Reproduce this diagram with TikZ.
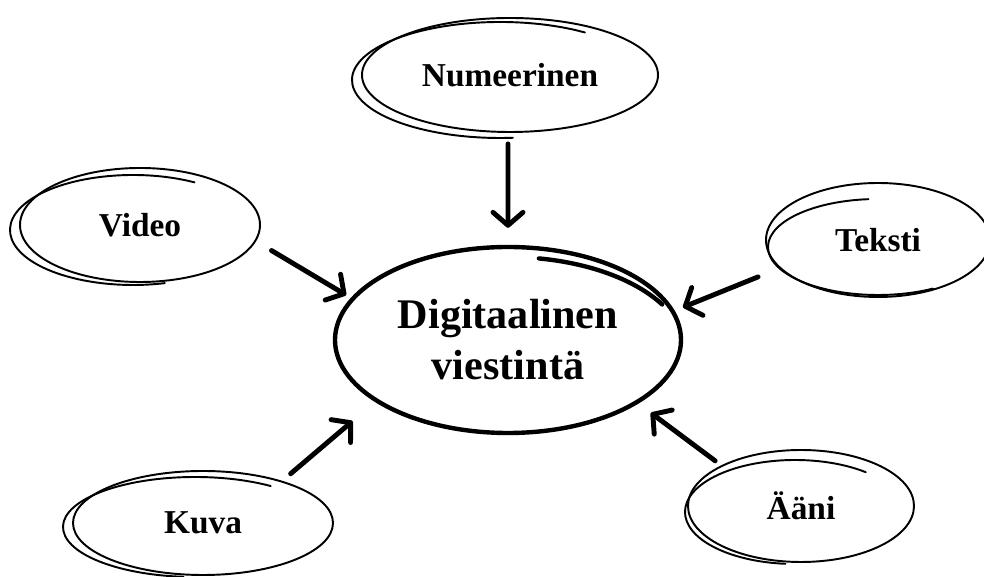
\documentclass[tikz,border=0pt]{standalone}
\usepackage{fontspec}
\setmainfont{Liberation Serif}
\usepackage{tikz}
\usetikzlibrary{positioning,arrows.meta,shapes.geometric,calc}

\begin{document}
\begin{tikzpicture}[
  x=0.2mm, y=0.2mm,
  every node/.style={align=center,inner sep=0pt,font=\bfseries\fontsize{19}{22}\selectfont},
  bubble/.style={draw,ellipse,line width=1.1pt},
  hub/.style={draw,ellipse,line width=2.5pt,font=\bfseries\fontsize{24}{29}\selectfont},
  % second pencil stroke round each bubble
  sketch/.style={line width=1.1pt,line cap=round},
  arr/.style={line width=2.8pt,line cap=round,-{Straight Barb[length=2.6mm,width=6mm,round]}}
]
\useasboundingbox (0,0) rectangle (984,577);

% --- nodes ---
\node[hub,minimum width=69.2mm,minimum height=37.2mm] (dig) at (508,237) {Digitaalinen\\viestintä};
\node[bubble,minimum width=59.2mm,minimum height=22.8mm] (num) at (510,502) {Numeerinen};
\node[bubble,minimum width=48mm,minimum height=22.8mm] (vid) at (140,352) {Video};
\node[bubble,minimum width=44.8mm,minimum height=22.8mm] (tek) at (878,337) {Teksti};
\node[bubble,minimum width=52mm,minimum height=20.8mm] (kuv) at (203,54) {Kuva};
\node[bubble,minimum width=45.2mm,minimum height=22.4mm] (aan) at (801,71) {Ääni};

% --- extra loops (hand-drawn look) ---
\draw[line width=2.5pt,line cap=round] (dig.center) ++(0,-12) ++(80:178 and 95) arc[start angle=80,end angle=30,x radius=178,y radius=95];
\draw[sketch] (num.center) ++(-10,-5) ++(55:148 and 58) arc[start angle=55,end angle=275,x radius=148,y radius=58];
\draw[sketch] (vid.center) ++(-7,-5) ++(60:123 and 55) arc[start angle=60,end angle=285,x radius=123,y radius=55];
\draw[sketch] (tek.center) ++(0,-7) ++(95:110 and 48) arc[start angle=95,end angle=300,x radius=110,y radius=48];
\draw[sketch] (kuv.center) ++(-8,-4) ++(55:132 and 50) arc[start angle=55,end angle=265,x radius=132,y radius=50];
\draw[sketch] (aan.center) ++(-6,-6) ++(50:110 and 52) arc[start angle=50,end angle=265,x radius=110,y radius=52];

% --- arrows into the hub ---
\draw[arr,shorten <=2.2mm,shorten >=3.4mm] (num.-92) -- (dig.90);
\draw[arr,shorten <=3.6mm,shorten >=1.1mm] (vid.-8.9) -- (dig.165.6);
\draw[arr,shorten <=4.6mm,shorten >=1.8mm] (tek.196.7) -- (dig.10.3);
\draw[arr,shorten <=2.2mm,shorten >=5.9mm] (kuv.28.7) -- (dig.205.1);
\draw[arr,shorten <=1.5mm,shorten >=3.1mm] (aan.153.7) -- (dig.-26.2);
\end{tikzpicture}
\end{document}
